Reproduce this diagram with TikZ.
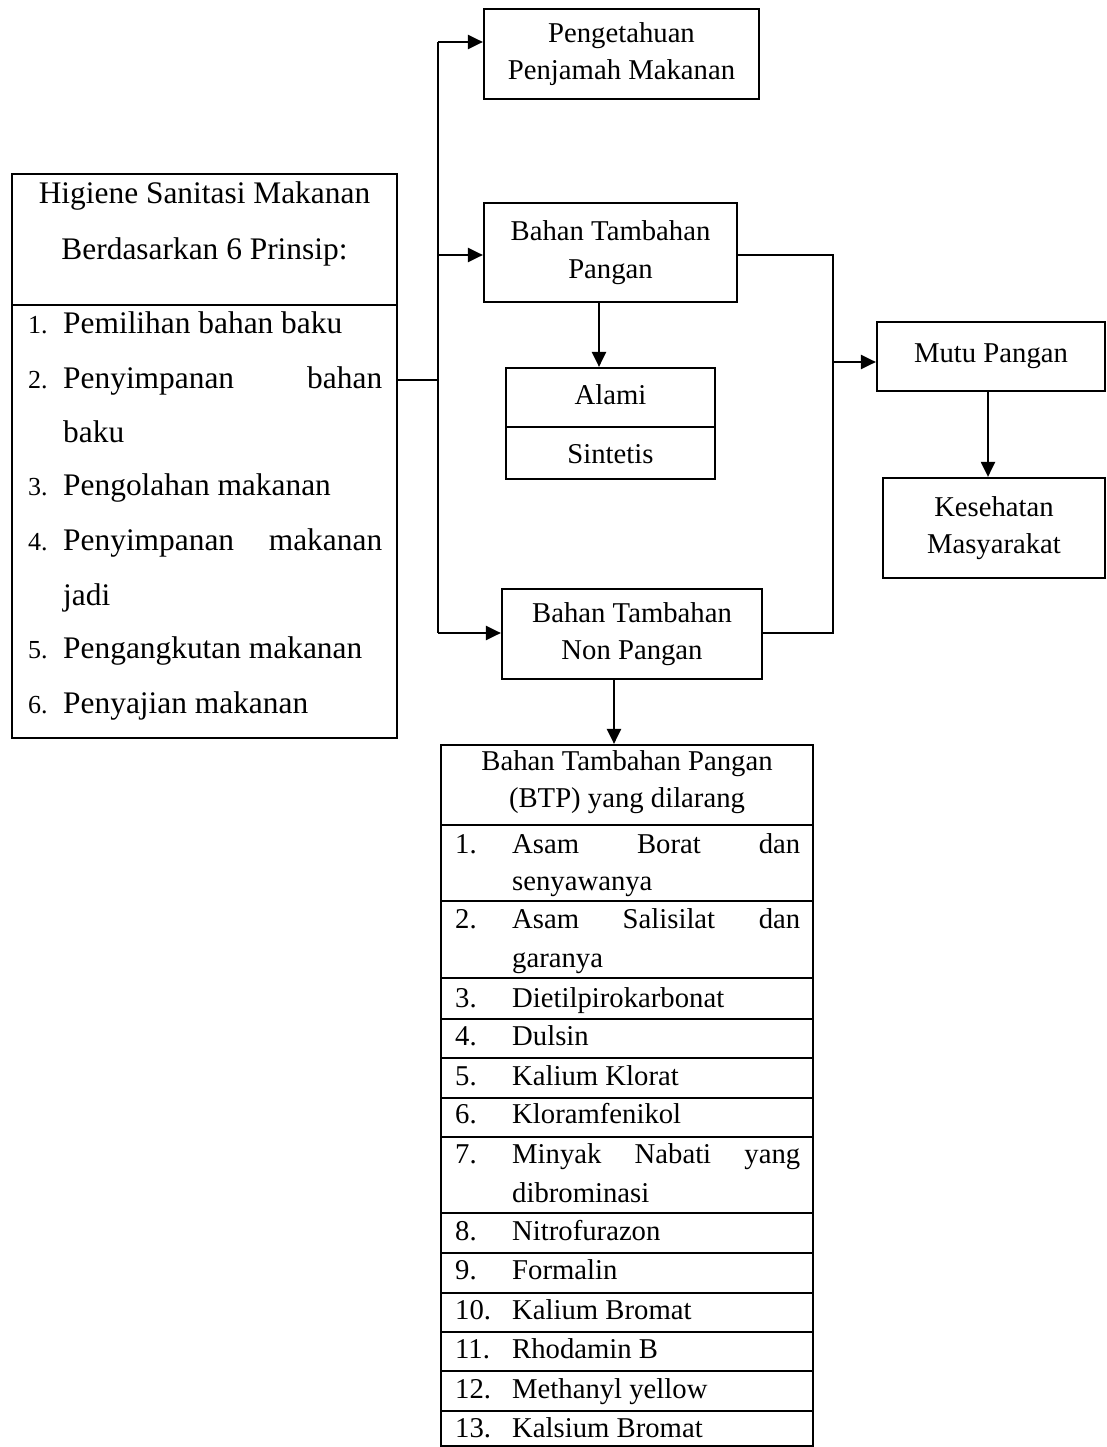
\documentclass[tikz,border=0pt]{standalone}
\usepackage{fontspec}
\setmainfont{Liberation Serif}
\usetikzlibrary{arrows.meta}
\newcommand\fmain{\fontsize{28.7}{37.5}\selectfont}
\newcommand\fleft{\fontsize{31.4}{54}\selectfont}
\newcommand\fnum{\fontsize{26}{30}\selectfont}
\begin{document}
\begin{tikzpicture}[x=1pt,y=-1pt,
  ln/.style={line width=2.2pt},
  arr/.style={line width=2.2pt,-{Triangle[length=15pt,width=14pt]}},
  box/.style={draw,line width=2.2pt,inner sep=0pt,align=center,font=\fmain},
  txt/.style={inner sep=0pt,font=\fmain},
  ltxt/.style={inner sep=0pt,font=\fleft,anchor=base west},
  lnum/.style={inner sep=0pt,font=\fnum,anchor=base west},
  tnum/.style={inner sep=0pt,font=\fmain,anchor=base west},
  ttxt/.style={inner sep=0pt,font=\fmain,anchor=base west}]
\useasboundingbox (0,0) rectangle (1106,1447);
\fill[white] (0,0) rectangle (1106,1447);

% left box
\node[draw,line width=2.2pt,inner sep=0pt,minimum width=385pt,minimum height=564pt] (hsm) at (204.5,456) {};
\draw[ln] (12,305) -- (397,305);
\node[inner sep=0pt,font=\fleft,anchor=base] (h1) at (204.5,204) {Higiene Sanitasi Makanan};
\node[inner sep=0pt,font=\fleft,anchor=base] (h2) at (204.5,259) {Berdasarkan 6 Prinsip:};
\node[lnum] (n1) at (28,333) {1.};
\node[ltxt] (t1) at (63,333) {Pemilihan bahan baku};
\node[lnum] (n2) at (28,388) {2.};
\node[ltxt] (t2) at (63,388) {\makebox[319pt][l]{Penyimpanan\hfill bahan}};
\node[ltxt] (t2b) at (63,442) {baku};
\node[lnum] (n3) at (28,495) {3.};
\node[ltxt] (t3) at (63,495) {Pengolahan makanan};
\node[lnum] (n4) at (28,550) {4.};
\node[ltxt] (t4) at (63,550) {\makebox[319pt][l]{Penyimpanan\hfill makanan}};
\node[ltxt] (t4b) at (63,605) {jadi};
\node[lnum] (n5) at (28,658) {5.};
\node[ltxt] (t5) at (63,658) {Pengangkutan makanan};
\node[lnum] (n6) at (28,713) {6.};
\node[ltxt] (t6) at (63,713) {Penyajian makanan};

% right boxes
\node[box,minimum width=275pt,minimum height=90pt] (pk) at (621.5,54) {Pengetahuan\\Penjamah Makanan};
\node[box,minimum width=253pt,minimum height=99pt] (btp) at (610.5,252.5) {Bahan Tambahan\\Pangan};
\node[draw,line width=2.2pt,inner sep=0pt,minimum width=209pt,minimum height=111pt] (ats) at (610.5,423.5) {};
\draw[ln] (506,427) -- (715,427);
\node[txt,anchor=base] (al) at (610.5,404) {Alami};
\node[txt,anchor=base] (si) at (610.5,463) {Sintetis};
\node[box,minimum width=260pt,minimum height=90pt] (btnp) at (632,634) {Bahan Tambahan\\Non Pangan};
\node[box,minimum width=228pt,minimum height=69pt] (mutu) at (991,356.5) {Mutu Pangan};
\node[box,minimum width=222pt,minimum height=100pt] (kes) at (994,528) {Kesehatan\\Masyarakat};

% connectors
\coordinate (jn) at (438,380);
\coordinate (jt) at (438,42);
\coordinate (jm) at (438,255);
\coordinate (jb) at (438,633);
\draw[ln] (hsm.east |- jn) -- (jn);
\draw[ln] (jt) -- (jb);
\draw[arr] (jt) -- (pk.west |- jt);
\draw[arr] (jm) -- (btp.west |- jm);
\draw[arr] (jb) -- (btnp.west |- jb);
\coordinate (a1) at (599,302);
\draw[arr] (a1) -- (a1 |- ats.north);
\coordinate (rt) at (833,255);
\coordinate (rb) at (833,633);
\coordinate (rm) at (833,362);
\draw[ln] (btp.east |- rt) -- (rt) -- (rb) -- (btnp.east |- rb);
\draw[arr] (rm) -- (mutu.west |- rm);
\coordinate (a2) at (988,391);
\draw[arr] (a2) -- (a2 |- kes.north);

% table
\node[draw,line width=2.2pt,inner sep=0pt,minimum width=372pt,minimum height=701pt] (tbl) at (627,1095.5) {};
\coordinate (a3) at (614,679);
\draw[arr] (a3) -- (a3 |- tbl.north);
\foreach \y in {825,901,978,1019,1058,1098,1137,1213,1253,1293,1332,1371,1411}
  \draw[ln] (441,\y) -- (813,\y);
\node[txt,anchor=base] (th1) at (627,770) {Bahan Tambahan Pangan};
\node[txt,anchor=base] (th2) at (627,807) {(BTP) yang dilarang};
\node[tnum] (r1n) at (455,853) {1.};
\node[ttxt] (r1a) at (512,853) {\makebox[288pt][l]{Asam\hfill Borat\hfill dan}};
\node[ttxt] (r1b) at (512,890) {senyawanya};
\node[tnum] (r2n) at (455,928) {2.};
\node[ttxt] (r2a) at (512,928) {\makebox[288pt][l]{Asam\hfill Salisilat\hfill dan}};
\node[ttxt] (r2b) at (512,967) {garanya};
\node[tnum] (r3n) at (455,1007) {3.};
\node[ttxt] (r3) at (512,1007) {Dietilpirokarbonat};
\node[tnum] (r4n) at (455,1045) {4.};
\node[ttxt] (r4) at (512,1045) {Dulsin};
\node[tnum] (r5n) at (455,1085) {5.};
\node[ttxt] (r5) at (512,1085) {Kalium Klorat};
\node[tnum] (r6n) at (455,1123) {6.};
\node[ttxt] (r6) at (512,1123) {Kloramfenikol};
\node[tnum] (r7n) at (455,1163) {7.};
\node[ttxt] (r7a) at (512,1163) {\makebox[288pt][l]{Minyak\hfill Nabati\hfill yang}};
\node[ttxt] (r7b) at (512,1202) {dibrominasi};
\node[tnum] (r8n) at (455,1240) {8.};
\node[ttxt] (r8) at (512,1240) {Nitrofurazon};
\node[tnum] (r9n) at (455,1279) {9.};
\node[ttxt] (r9) at (512,1279) {Formalin};
\node[tnum] (r10n) at (455,1319) {10.};
\node[ttxt] (r10) at (512,1319) {Kalium Bromat};
\node[tnum] (r11n) at (455,1358) {11.};
\node[ttxt] (r11) at (512,1358) {Rhodamin B};
\node[tnum] (r12n) at (455,1398) {12.};
\node[ttxt] (r12) at (512,1398) {Methanyl yellow};
\node[tnum] (r13n) at (455,1437) {13.};
\node[ttxt] (r13) at (512,1437) {Kalsium Bromat};
\end{tikzpicture}
\end{document}
